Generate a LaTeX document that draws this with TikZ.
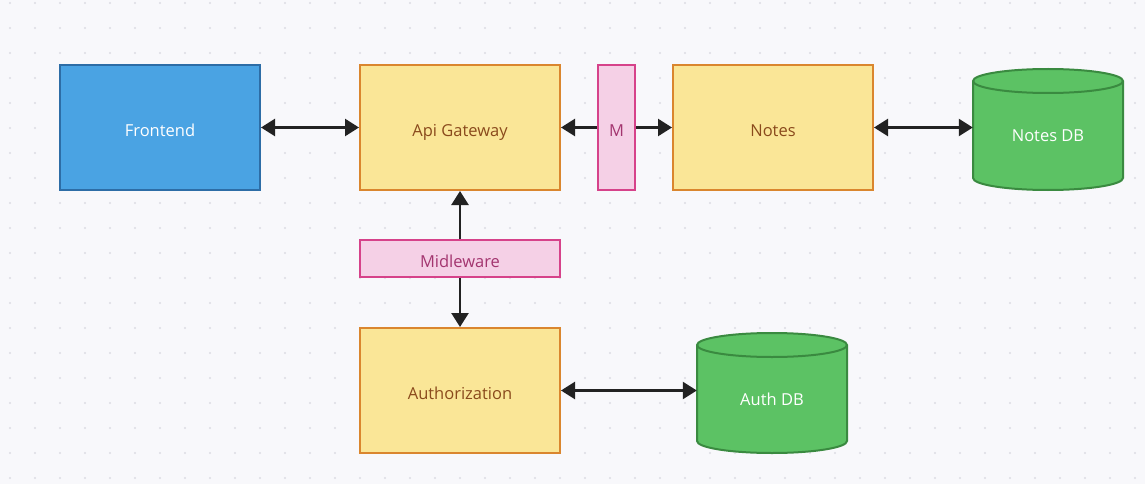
\documentclass[tikz,border=0pt]{standalone}
\usepackage{fontspec}
\setmainfont{Open Sans}
\usetikzlibrary{arrows.meta}
\definecolor{bg}{HTML}{F8F8FB}
\definecolor{dotc}{HTML}{DCDCE3}
\definecolor{bluef}{HTML}{4AA3E3}
\definecolor{blued}{HTML}{2D6DA6}
\definecolor{yelf}{HTML}{FAE697}
\definecolor{yeld}{HTML}{DA862E}
\definecolor{yelt}{HTML}{8A4A1C}
\definecolor{pinkf}{HTML}{F5D0E6}
\definecolor{pinkd}{HTML}{D6428A}
\definecolor{pinkt}{HTML}{A3356F}
\definecolor{greenf}{HTML}{5CC264}
\definecolor{greend}{HTML}{3A8A40}
\definecolor{arrowc}{HTML}{222222}
\tikzset{
  txt/.style={inner sep=0pt, text height=17pt, text depth=0pt, font=\fontsize{16.5}{18}\selectfont},
  box/.style={txt, draw, line width=2pt},
  bluebox/.style={box, fill=bluef, draw=blued, text=white},
  yelbox/.style={box, fill=yelf, draw=yeld, text=yelt},
  pinkbox/.style={box, fill=pinkf, draw=pinkd, text=pinkt},
  dbbody/.style={txt, text=white},
  dbshape/.style={fill=greenf, draw=greend, line width=2pt},
  conn/.style={draw=arrowc, line width=2.5pt, -{Triangle[length=14pt,width=17pt]}},
  bconn/.style={draw=arrowc, line width=2.5pt, {Triangle[length=14pt,width=17pt]}-{Triangle[length=14pt,width=17pt]}},
}
\begin{document}
\begin{tikzpicture}[x=1pt,y=-1pt]
\useasboundingbox (0,0) rectangle (1145,484);
\fill[bg] (0,0) rectangle (1145,484);
\foreach \gx in {10,35,...,1135}{
  \foreach \gy in {3,28,...,478}{
    \fill[dotc] (\gx,\gy) circle[radius=1.2pt];
  }
}
% boxes
\node[bluebox, minimum width=200pt, minimum height=125pt] (front) at (160,127.5) {Frontend};
\node[yelbox, minimum width=200pt, minimum height=125pt] (api) at (460,127.5) {Api Gateway};
\node[pinkbox, minimum width=37pt, minimum height=125pt] (m) at (616.5,127.5) {M};
\node[yelbox, minimum width=200pt, minimum height=125pt] (notes) at (773,127.5) {Notes};
\node[pinkbox, minimum width=200pt, minimum height=37pt] (mid) at (460,258.5) {Midleware};
\node[yelbox, minimum width=200pt, minimum height=125pt] (auth) at (460,390.5) {Authorization};
% cylinders
\path[dbshape] (973,81) -- (973,178) arc[start angle=180,end angle=360,x radius=75pt,y radius=12pt] -- (1123,81) arc[start angle=0,end angle=180,x radius=75pt,y radius=12pt] -- cycle;
\draw[greend, line width=2pt] (973,81) arc[start angle=180,end angle=360,x radius=75pt,y radius=12pt];
\node[dbbody, minimum width=150pt, minimum height=109pt] (ndb) at (1048,133.5) {Notes DB};
\path[dbshape] (697,345) -- (697,441) arc[start angle=180,end angle=360,x radius=75pt,y radius=12pt] -- (847,345) arc[start angle=0,end angle=180,x radius=75pt,y radius=12pt] -- cycle;
\draw[greend, line width=2pt] (697,345) arc[start angle=180,end angle=360,x radius=75pt,y radius=12pt];
\node[dbbody, minimum width=150pt, minimum height=108pt] (adb) at (772,396.5) {Auth DB};
% connectors
\draw[bconn] (front.east) -- (api.west);
\draw[conn] (m.west) -- (api.east);
\draw[conn] (m.east) -- (notes.west);
\draw[bconn] (notes.east) -- (notes.east -| ndb.west);
\draw[conn] (mid.north) -- (api.south);
\draw[conn] (mid.south) -- (auth.north);
\draw[bconn] (auth.east) -- (auth.east -| adb.west);
\end{tikzpicture}
\end{document}
